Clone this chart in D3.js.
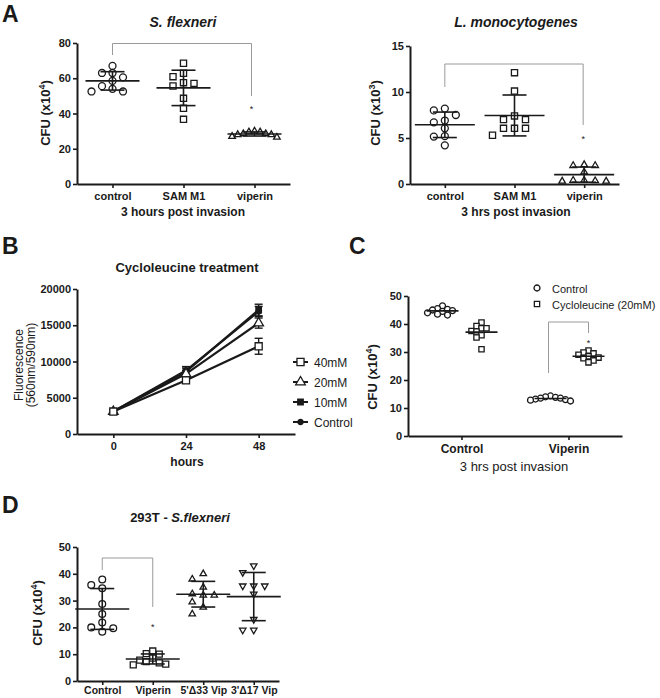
<!DOCTYPE html>
<html><head><meta charset="utf-8">
<script src="https://cdn.jsdelivr.net/npm/d3@7"></script>
<style>
body{margin:0;background:#fff;}
text{font-family:"Liberation Sans",Arial,sans-serif;fill:#1a1a1a;}
</style></head>
<body><svg id="c" width="660" height="698"></svg>
<script>
// ---------- DATA ----------
const aCats = ["control", "SAM M1", "viperin"];
const aShigella = [
  [67, 63, 63, 60.5, 58.5, 55.5, 54, 52.5, 52.5],
  [68.5, 62.8, 60.9, 57.5, 57.1, 55.6, 48.6, 43, 36.7],
  [27, 29.5, 28.5, 28, 28.5, 26.5, 29.5, 28, 30]
];
const aListeria = [
  [8.0, 8.2, 7.5, 6.7, 6.9, 6.05, 5.15, 5.2, 4.2],
  [12.1, 10.1, 7.0, 7.0, 7.4, 6.05, 6.05, 6.05, 5.3],
  [2.0, 2.1, 2.0, 1.3, 0.4, 0.3, 0.4, 0.35, 0.3]
];
const aShigellaTicks = [0, 20, 40, 60, 80];
const aListeriaTicks = [0, 5, 10, 15];

const bHours = [0, 24, 48];
const bSeriesNames = ["40mM", "20mM", "10mM", "Control"];
const b40 = [3100, 7400, 12100];
const b40err = [300, 400, 1100];
const b20 = [3100, 8300, 15300];
const b20err = [250, 450, 700];
const b10 = [3100, 8600, 17100];
const b10err = [250, 500, 800];
const bCtrl = [3100, 8750, 16900];
const bCtrlErr = [250, 550, 700];
const bYTicks = [0, 5000, 10000, 15000, 20000];

const cCats = ["Control", "Viperin"];
const cSeries = ["Control", "Cycloleucine (20mM)"];
const cControlCtrl = [46.5, 45.5, 45, 44.5, 45.2, 44, 43.5, 43.2, 44.8];
const cControlCyclo = [40.5, 39.3, 38.5, 38.5, 37.5, 37.3, 36, 35.2, 31];
const cViperinCtrl = [14.3, 14, 13.8, 13.5, 13.5, 13.2, 13, 12.8, 12.5];
const cViperinCyclo = [30.5, 29.8, 29.5, 29, 28.5, 28, 27.8, 27, 26.3];
const cYTicks = [0, 10, 20, 30, 40, 50];

const dCats = ["Control", "Viperin", "5'\u039433 Vip", "3'\u039417 Vip"];
const dValues = [
  [37.9, 34.6, 35.8, 28.7, 25, 18.4, 20, 21.8, 19.7],
  [11.2, 10.2, 10, 8.5, 7.8, 7.2, 6.8, 6.3, 6],
  [40, 38, 35, 32.5, 32, 32, 29.5, 27.5, 25],
  [43, 40.5, 35.5, 35.5, 35.5, 32.5, 23, 19, 19]
];
const dYTicks = [0, 10, 20, 30, 40, 50];

// ---------- HELPERS ----------
const svg = d3.select("#c");
const FONT = '"Liberation Sans",Arial,sans-serif';
const INK = "#1a1a1a";
const grey = "#9a9a9a";

function styleAxis(g, fs) {
  g.selectAll(".domain").attr("stroke", INK).attr("stroke-width", 2);
  g.selectAll(".tick line").attr("stroke", INK).attr("stroke-width", 1.6);
  g.selectAll(".tick text").attr("font-family", FONT).attr("font-weight", "bold")
    .attr("font-size", fs || 11).attr("fill", INK);
}
function yAxis(y, x0, ticks, fmt) {
  const g = svg.append("g").attr("transform", `translate(${x0},0)`)
    .call(d3.axisLeft(y).tickValues(ticks).tickSize(4).tickSizeOuter(0).tickPadding(2).tickFormat(fmt || d3.format("d")));
  styleAxis(g);
  return g;
}
function xAxis(x, y0, fs, pad) {
  const ax = d3.axisBottom(x).tickSize(4).tickSizeOuter(0).tickPadding(pad == null ? 4 : pad);
  const g = svg.append("g").attr("transform", `translate(0,${y0})`).call(ax);
  styleAxis(g, fs);
  return g;
}
function text(x, y, s, opt) {
  opt = opt || {};
  const t = svg.append("text").attr("x", x).attr("y", y).text(s)
    .attr("font-size", opt.size || 12).attr("font-weight", opt.weight || "bold")
    .attr("text-anchor", opt.anchor || "middle").attr("fill", INK);
  if (opt.italic) t.attr("font-style", "italic");
  return t;
}
function vtitle(cx, cy, base, sup) {
  const t = svg.append("text").attr("transform", `translate(${cx},${cy}) rotate(-90)`)
    .attr("text-anchor", "middle").attr("font-size", 13).attr("font-weight", "bold").attr("fill", INK);
  t.append("tspan").text(base);
  t.append("tspan").text(sup).attr("font-size", 9).attr("dy", -5);
  t.append("tspan").text(")").attr("dy", 5);
}
function swarm(vals, y, step, d) {
  const placed = [];
  const out = new Array(vals.length);
  vals.map((v, i) => ({ v, i })).sort((a, b) => b.v - a.v).forEach(o => {
    const py = y(o.v);
    for (let k = 0; k < 30; k++) {
      const off = k === 0 ? 0 : (k % 2 ? -Math.ceil(k / 2) : Math.ceil(k / 2)) * step;
      if (!placed.some(p => Math.abs(p.x - off) < step * 0.99 && Math.abs(p.y - py) < d)) {
        placed.push({ x: off, y: py }); out[o.i] = { v: o.v, dx: off, y: py }; break;
      }
    }
  });
  return out;
}
const shapes = {
  circle: d3.symbol().type(d3.symbolCircle),
  square: d3.symbol().type(d3.symbolSquare),
  triangle: d3.symbol().type(d3.symbolTriangle),
};
function marker(x, y, type, size, filled) {
  return svg.append("path").attr("d", shapes[type === "tridown" ? "triangle" : type].size(size)())
    .attr("transform", `translate(${x},${y})` + (type === "tridown" ? " rotate(180)" : ""))
    .attr("fill", filled ? INK : "#fff").attr("stroke", INK).attr("stroke-width", 1.3);
}
function line(x1, y1, x2, y2, col, w) {
  svg.append("line").attr("x1", x1).attr("y1", y1).attr("x2", x2).attr("y2", y2)
    .attr("stroke", col || INK).attr("stroke-width", w || 1.6);
}
function markerSize(type, base) { return (type === "triangle" || type === "tridown") ? base * 0.5 : base; }
function scatterGroup(vals, cx, y, type, opt) {
  const pts = swarm(vals, y, opt.step, opt.d);
  pts.forEach(p => marker(cx + p.dx, p.y, type, markerSize(type, opt.size), false));
  const m = d3.mean(vals), sd = d3.deviation(vals);
  line(cx - opt.mw, y(m), cx + opt.mw, y(m));
  if (opt.sd) {
    const lo = Math.max(0, m - sd);
    line(cx, y(m + sd), cx, y(lo));
    line(cx - opt.cw, y(m + sd), cx + opt.cw, y(m + sd));
    if (m - sd > 0) line(cx - opt.cw, y(m - sd), cx + opt.cw, y(m - sd));
  }
}
function bracket(x1, y1, x2, y2, ytop, starY) {
  svg.append("path").attr("d", `M${x1},${y1}V${ytop}H${x2}V${y2}`)
    .attr("fill", "none").attr("stroke", grey).attr("stroke-width", 1);
  svg.append("text").attr("x", x2).attr("y", starY).attr("text-anchor", "middle")
    .attr("font-size", 9).attr("fill", "#666").text("*");
}
function panelLabel(x, y, s) { text(x, y, s, { size: 23, anchor: "start" }); }

// ---------- PANEL A (left) ----------
panelLabel(2, 22, "A");
{
  const y = d3.scaleLinear().domain([0, 80]).range([184, 43]);
  const x = d3.scalePoint().domain(aCats).range([77, 290]).padding(0.5);
  text(183, 27, "S. flexneri", { size: 14, italic: true });
  const types = ["circle", "square", "triangle"];
  aCats.forEach((c, i) => scatterGroup(aShigella[i], x(c), y, types[i],
    { step: i === 2 ? 5.6 : 10.5, d: 7, size: 38, mw: 27, cw: 12, sd: true }));
  bracket(x("control"), 55, x("viperin") - 3, 96, 43.5, 112);
  yAxis(y, 77, aShigellaTicks);
  xAxis(x, 184, 11);
  vtitle(50, 113, "CFU (x10", "4");
  text(183, 216, "3 hours post invasion", { size: 12 });
}
// ---------- PANEL A (right) ----------
{
  const y = d3.scaleLinear().domain([0, 15]).range([184, 46]);
  const x = d3.scalePoint().domain(aCats).range([410, 619]).padding(0.5);
  text(516, 27, "L. monocytogenes", { size: 14, italic: true });
  const types = ["circle", "square", "triangle"];
  aCats.forEach((c, i) => scatterGroup(aListeria[i], x(c), y, types[i],
    { step: 11, d: 7, size: 38, mw: 30, cw: 12, sd: true }));
  bracket(x("control"), 87, x("viperin") - 1, 125, 64, 142);
  yAxis(y, 410, aListeriaTicks);
  xAxis(x, 184, 11);
  vtitle(380, 113, "CFU (x10", "3");
  text(516, 216, "3 hrs post invasion", { size: 12 });
}
// ---------- PANEL B ----------
panelLabel(2, 254, "B");
{
  const y = d3.scaleLinear().domain([0, 20000]).range([434, 289]);
  const x = d3.scaleLinear().domain([-12, 60]).range([77, 295]);
  text(187, 272, "Cycloleucine treatment", { size: 13 });
  const series = [
    { name: bSeriesNames[0], v: b40, e: b40err, type: "square", size: 50, filled: false },
    { name: bSeriesNames[1], v: b20, e: b20err, type: "triangle", size: 40, filled: false },
    { name: bSeriesNames[2], v: b10, e: b10err, type: "square", size: 30, filled: true },
    { name: bSeriesNames[3], v: bCtrl, e: bCtrlErr, type: "circle", size: 22, filled: true }
  ];
  const lg = d3.line().x((d, i) => x(bHours[i])).y(d => y(d));
  series.slice().reverse().forEach(s => {
    svg.append("path").attr("d", lg(s.v)).attr("fill", "none").attr("stroke", INK).attr("stroke-width", 2.2);
  });
  series.slice().reverse().forEach(s => {
    s.v.forEach((v, i) => {
      const cx = x(bHours[i]);
      line(cx, y(v + s.e[i]), cx, y(v - s.e[i]), INK, 1.4);
      line(cx - 4, y(v + s.e[i]), cx + 4, y(v + s.e[i]), INK, 1.4);
      line(cx - 4, y(v - s.e[i]), cx + 4, y(v - s.e[i]), INK, 1.4);
      marker(cx, y(v), s.type, s.size, s.filled);
    });
  });
  series.forEach((s, i) => {
    const ly = 362 + i * 20;
    line(293, ly, 308, ly, INK, 2);
    marker(300.5, ly, s.type, s.size, s.filled);
    text(314, ly + 4.5, s.name, { size: 12, weight: "normal", anchor: "start" });
  });
  yAxis(y, 77, bYTicks);
  const gx = svg.append("g").attr("transform", "translate(0,434)")
    .call(d3.axisBottom(x).tickValues(bHours).tickSize(4).tickSizeOuter(0).tickPadding(4).tickFormat(d3.format("d")));
  styleAxis(gx, 11);
  text(187, 466, "hours", { size: 12 });
  const t = svg.append("text").attr("transform", "translate(0,365) rotate(-90)")
    .attr("text-anchor", "middle").attr("font-size", 12).attr("fill", INK);
  t.append("tspan").attr("x", 0).attr("y", 23).text("Fluorescence");
  t.append("tspan").attr("x", 0).attr("y", 35).text("(560nm/590nm)");
}
// ---------- PANEL C ----------
panelLabel(349, 254, "C");
{
  const y = d3.scaleLinear().domain([0, 50]).range([436, 296]);
  const x = d3.scalePoint().domain(cCats).range([408, 622]).padding(0.5);
  const groups = [
    { cat: "Control", off: -19, v: cControlCtrl, type: "circle" },
    { cat: "Control", off: 20, v: cControlCyclo, type: "square" },
    { cat: "Viperin", off: -18, v: cViperinCtrl, type: "circle" },
    { cat: "Viperin", off: 20, v: cViperinCyclo, type: "square" }
  ];
  groups.forEach(g => scatterGroup(g.v, x(g.cat) + g.off, y, g.type,
    { step: 5, d: 5.5, size: 28, mw: 16, cw: 0, sd: false }));
  bracket(x("Viperin") - 20, 373, x("Viperin") + 20, 333, 322, 346);
  yAxis(y, 408, cYTicks);
  xAxis(x, 436, 12);
  vtitle(377, 377, "CFU (x10", "4");
  text(514, 471, "3 hrs post invasion", { size: 13, weight: "normal" });
  cSeries.forEach((s, i) => {
    const ly = 288 + i * 16;
    marker(537, ly, i ? "square" : "circle", 28, false);
    text(552, ly + 4.5, s, { size: 11, weight: "normal", anchor: "start" });
  });
}
// ---------- PANEL D ----------
panelLabel(2, 513, "D");
{
  const y = d3.scaleLinear().domain([0, 50]).range([681, 547]);
  const x = d3.scalePoint().domain(dCats).range([77, 279]).padding(0.5);
  const t = text(180, 522, "293T - ", { size: 13 });
  t.append("tspan").attr("font-style", "italic").text("S.flexneri");
  const types = ["circle", "square", "triangle", "tridown"];
  dCats.forEach((c, i) => scatterGroup(dValues[i], x(c), y, types[i],
    { step: i === 1 ? 6.5 : 11, d: 7, size: 36, mw: 27, cw: 12, sd: true }));
  bracket(x("Control"), 570, x("Viperin"), 607, 558, 630);
  yAxis(y, 77, dYTicks);
  xAxis(x, 681, 10.5, 2);
  vtitle(42, 613, "CFU (x10", "4");
}
</script></body></html>
